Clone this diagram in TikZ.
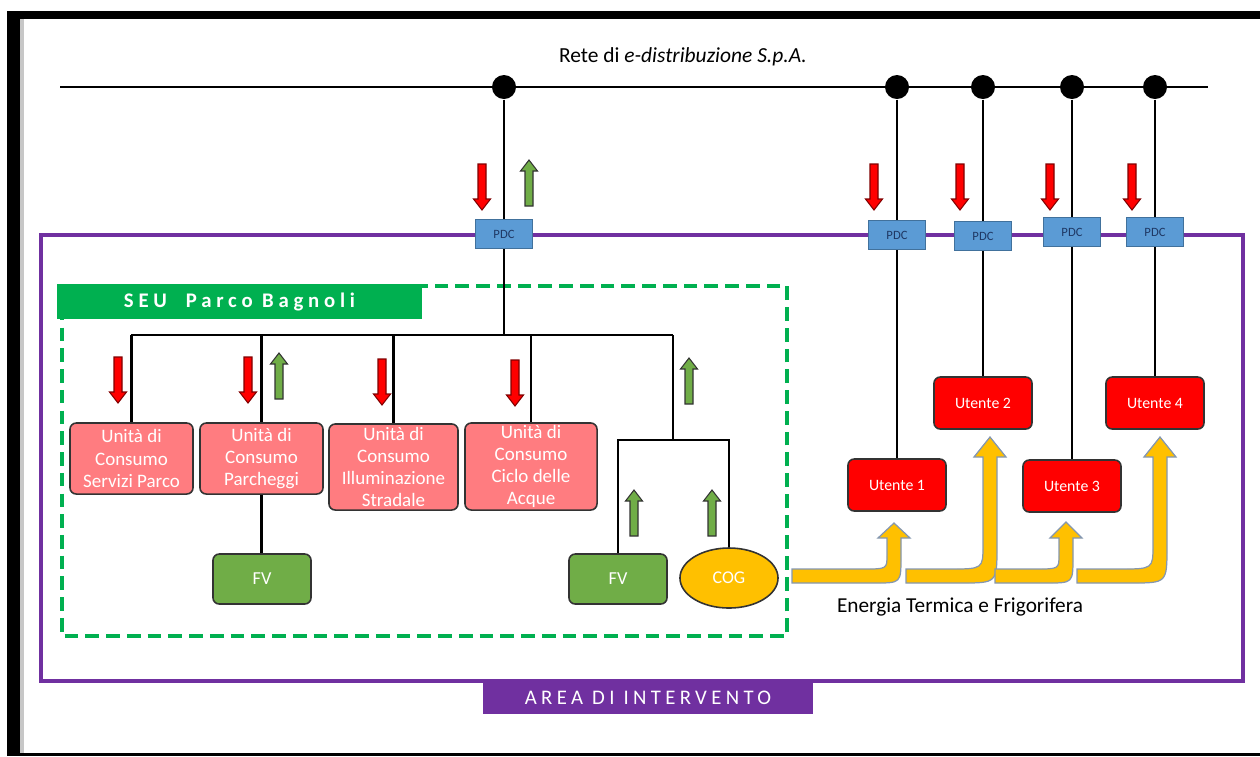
\documentclass[tikz,border=0pt]{standalone}
\usepackage{fontspec}
\setmainfont{Carlito}
\newfontfamily\seufont[LetterSpace=23]{Carlito}
\newfontfamily\areafont[LetterSpace=21]{Carlito}
\usetikzlibrary{positioning,calc,shapes.geometric}

\definecolor{areapurple}{HTML}{7030A0}
\definecolor{seugreen}{HTML}{00B050}
\definecolor{fvgreen}{HTML}{70AD47}
\definecolor{conspink}{HTML}{FF7C80}
\definecolor{utred}{HTML}{FF0000}
\definecolor{cogyellow}{HTML}{FFC000}
\definecolor{pdcblue}{HTML}{5B9BD5}
\definecolor{pdcline}{HTML}{41719C}
\definecolor{pdctext}{HTML}{1F3864}
\definecolor{heatline}{HTML}{8497B0}

\newcommand{\boxfont}{\fontsize{5.4}{6.3}\selectfont}

% yellow heat arrow: start x, shaft x, head base y, tip y, outer radius
\newcommand{\heatarrow}[5]{%
  \filldraw[heat] (#1,583) -- (#2+7-#5,583) .. controls (#2+7,583) .. (#2+7,583-#5)
    -- (#2+7,#3) -- (#2+16,#3) -- (#2,#4) -- (#2-16,#3) -- (#2-7,#3)
    -- (#2-7,581-#5) .. controls (#2-7,569) .. (#2-5-#5,569) -- (#1,569) -- cycle;}

\tikzset{
  dot/.style={circle,fill=black,minimum size=0.24cm,inner sep=0},
  pdc/.style={rectangle,fill=pdcblue,draw=pdcline,line width=0.4pt,minimum width=0.57cm,
    minimum height=0.29cm,inner sep=0,text=pdctext,font=\fontsize{3.6}{4}\selectfont},
  cons/.style={rectangle,rounded corners=1.8pt,fill=conspink,draw=black!80,line width=0.45pt,
    text=white,align=center,inner sep=0,font=\boxfont},
  utente/.style={rectangle,rounded corners=1.8pt,fill=utred,draw=black!80,line width=0.45pt,
    text=white,inner sep=0,minimum width=0.98cm,minimum height=0.52cm,font=\fontsize{4.5}{5}\selectfont},
  fv/.style={rectangle,rounded corners=1.8pt,fill=fvgreen,draw=black!80,line width=0.45pt,
    text=white,inner sep=0,minimum width=0.98cm,minimum height=0.5cm,font=\fontsize{5.2}{6}\selectfont},
  cog/.style={ellipse,fill=cogyellow,draw=black!80,line width=0.45pt,text=white,inner sep=0,
    minimum width=0.98cm,minimum height=0.6cm,font=\fontsize{5.1}{6}\selectfont},
  wire/.style={line width=0.6pt},
  heat/.style={fill=cogyellow,draw=heatline,line width=0.35pt},
  redarr/.pic={\filldraw[fill=utred,draw=red!50!black,line width=0.3pt]
    (-4,-23) -- (4,-23) -- (4,12) -- (8.5,12) -- (0,23) -- (-8.5,12) -- (-4,12) -- cycle;},
  greenarr/.pic={\filldraw[fill=fvgreen,draw=black!80,line width=0.3pt]
    (-4,23) -- (4,23) -- (4,-12) -- (8.5,-12) -- (0,-23) -- (-8.5,-12) -- (-4,-12) -- cycle;}
}

\begin{document}
\begin{tikzpicture}[x=0.01cm,y=-0.01cm,font=\fontsize{6.1}{7}\selectfont]
\useasboundingbox (0,0) rectangle (1260,756);

% frame
\fill[black] (7,11) rectangle (1260,19);
\fill[black] (7,11) rectangle (20,756);
\fill[black] (7,753) rectangle (1260,756);
\fill[black!22] (20,19) rectangle (24,753);

% area di intervento
\draw[areapurple,line width=1.4pt] (41,235) rectangle (1243,681);
\node[fill=areapurple,text=white,minimum width=3.3cm,minimum height=0.31cm,inner sep=0,
  font=\areafont\fontsize{5.9}{6}\selectfont] (area) at (648,698) {AREA DI INTERVENTO};

% rete
\draw[line width=0.8pt] (60,87) -- (1208,87);
\node (rete) at (683,57) {Rete di \textit{e-distribuzione S.p.A.}};
\node[dot] (d0) at (504,87) {};
\foreach \n/\x in {1/897,2/983,3/1072,4/1155}
  \node[dot] (d\n) at (\x,87) {};

% punti di consegna
\node[pdc] (p0) at (504,234) {PDC};
\foreach \n/\x/\y in {1/897/235,2/983/236,3/1072/232,4/1155/232}
  \node[pdc] (p\n) at (\x,\y) {PDC};

% utenti
\node[utente] (u1) at (897,485) {Utente 1};
\node[utente] (u2) at (983,403) {Utente 2};
\node[utente] (u3) at (1072,486) {Utente 3};
\node[utente] (u4) at (1155,403) {Utente 4};
\draw[wire] (d0) -- (p0);
\foreach \n in {1,...,4}{
  \draw[wire] (d\n) -- (p\n);
  \draw[wire] (p\n) -- (u\n);
}
\pic at (482,187) {redarr};
\pic at (529,183) {greenarr};
\foreach \x in {874,960,1050,1132}
  \pic at (\x,187) {redarr};

% SEU
\draw[seugreen,line width=1.4pt,dash pattern=on 3.9pt off 2pt] (62,286) rectangle (787,636);
\node[fill=seugreen,text=white,minimum width=3.65cm,minimum height=0.35cm,inner sep=0,
  font=\seufont\bfseries\fontsize{5.9}{6}\selectfont] (seu) at (239.5,301.5) {SEU\ \ Parco Bagnoli};

\node[cons,minimum width=1.23cm,minimum height=0.71cm] (c1) at (131.5,458.5) {Unità di\\Consumo\\Servizi Parco};
\node[cons,minimum width=1.23cm,minimum height=0.71cm] (c2) at (261.5,458.5) {Unità di\\Consumo\\Parcheggi};
\node[cons,minimum width=1.29cm,minimum height=0.86cm] (c3) at (393.5,467) {Unità di\\Consumo\\Illuminazione\\Stradale};
\node[cons,minimum width=1.32cm,minimum height=0.87cm] (c4) at (531,466.5) {Unità di\\Consumo\\Ciclo delle\\Acque};
\node[fv] (fv1) at (262,579) {FV};
\node[fv] (fv2) at (618,579) {FV};
\node[cog] (cog) at (729,578) {COG};

\coordinate (busL) at (131,335);
\coordinate (busR) at (673,335);
\coordinate (genjoin) at (673,440);
\draw[wire] (p0.south) -- (p0.south |- busL);
\draw[wire] (busL) -- (busR);
\draw[wire] (c1.north |- busL) -- (c1.north);
\draw[wire] (c2.north |- busL) -- (c2.north);
\draw[wire] (c3.north |- busL) -- (c3.north);
\draw[wire] (c4.north |- busL) -- (c4.north);
\draw[wire] (c2.south) -- (c2.south |- fv1.north);
\draw[wire] (busR) -- (genjoin);
\draw[wire] (fv2.north) |- (genjoin) -| (cog.north);

\foreach \x/\y in {118/380,248/380,382/382,515/383}
  \pic at (\x,\y) {redarr};
\foreach \x/\y in {279/376,689/381,634/513,712/513}
  \pic at (\x,\y) {greenarr};

% energia termica
\heatarrow{792}{894}{538}{523}{26}
\heatarrow{906}{990}{457}{437}{36}
\heatarrow{995}{1066}{538}{522}{26}
\heatarrow{1077}{1160}{457}{437}{36}
\node[font=\fontsize{6.05}{7}\selectfont] (energia) at (960,607) {Energia Termica e Frigorifera};
\end{tikzpicture}
\end{document}
